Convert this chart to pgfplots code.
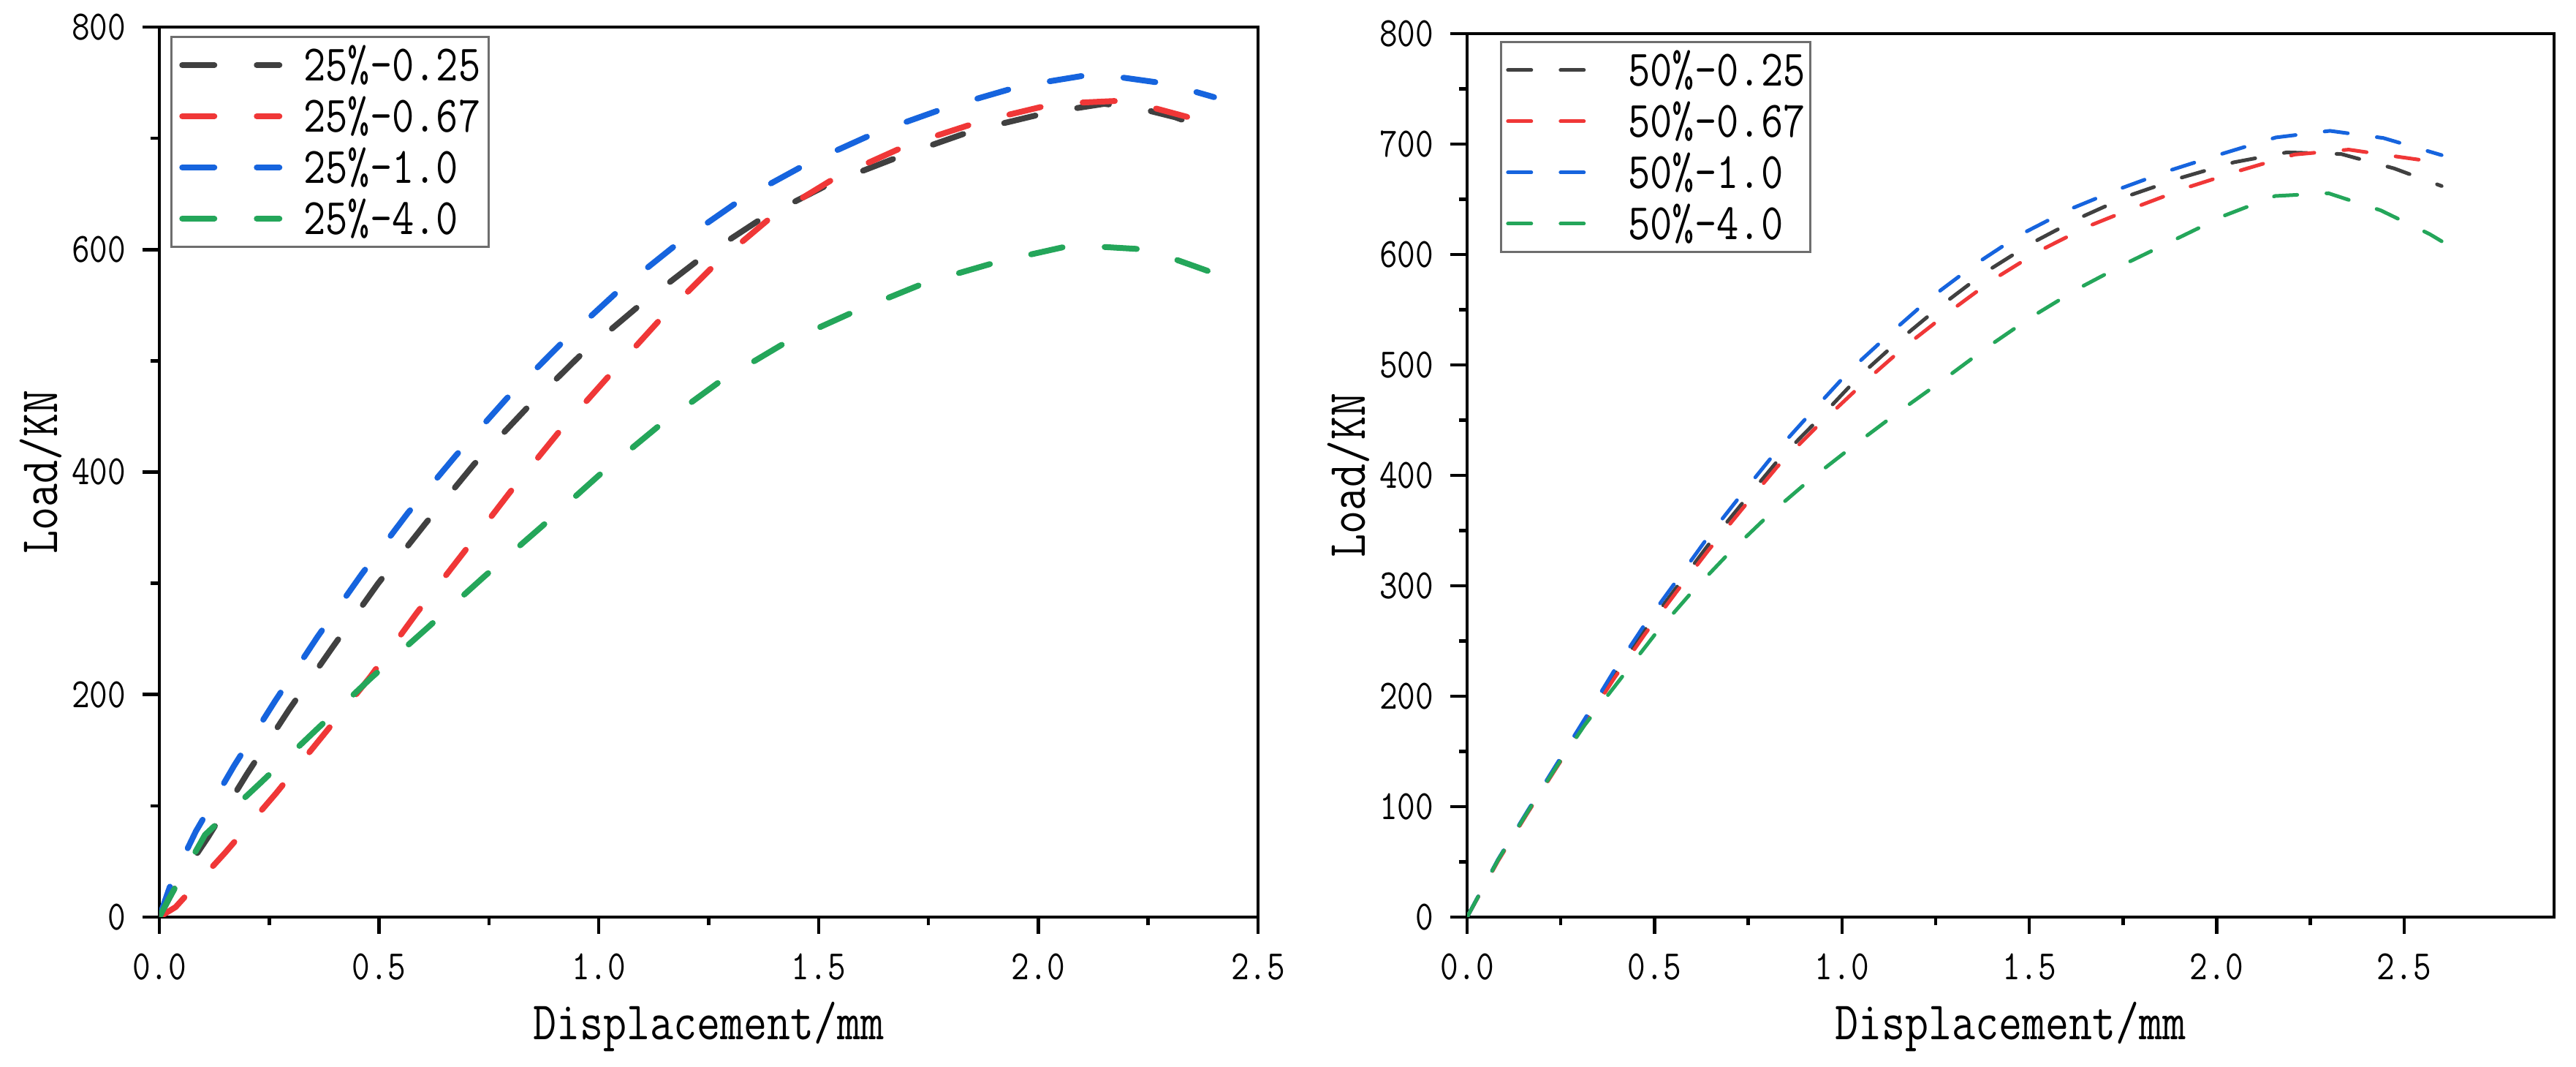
\documentclass[border=0pt]{standalone}
\usepackage{fontspec}
\setmainfont{Latin Modern Mono}[FakeStretch=0.84]
\usepackage{pgfplots}
\pgfplotsset{compat=1.18}
\definecolor{cgray}{RGB}{64,64,64}
\definecolor{cred}{RGB}{240,55,55}
\definecolor{cblue}{RGB}{22,100,222}
\definecolor{cgreen}{RGB}{36,166,90}
\pgfplotsset{
  common/.style={
    scale only axis, anchor=south west,
    axis line style={line width=0.9pt},
    every tick/.style={black, line width=0.9pt},
    tick align=outside, tick pos=left,
    major tick length=4.6pt, minor tick length=2.3pt,
    minor x tick num=1, minor y tick num=1,
    /pgf/number format/assume math mode=true,
    xticklabel style={font=\fontsize{11.4}{12}\selectfont, inner sep=0pt, /pgf/number format/fixed, /pgf/number format/fixed zerofill, /pgf/number format/precision=1},
    yticklabel style={font=\fontsize{11.4}{12}\selectfont, inner sep=0pt},
    label style={font=\fontsize{14.8}{16}\selectfont, inner sep=0pt},
    xlabel={Displacement/mm}, ylabel={Load/KN},
    legend cell align=left,
  },
  lft/.style={line width=1.6pt, line cap=round, dash pattern=on 8.8pt off 11.6pt},
  rgt/.style={line width=1pt, line cap=round, dash pattern=on 6.4pt off 8pt},
}
\begin{document}
\begin{tikzpicture}
\useasboundingbox (0,0) rectangle (704.8pt,291.8pt);
% ---------------- left ----------------
\begin{axis}[common,
  at={(43.6pt,41pt)}, width=300.6pt, height=243.4pt,
  xmin=0, xmax=2.5, ymin=0, ymax=800,
  xtick={0,0.5,...,2.5}, ytick={0,200,...,800},
  xticklabel style={yshift=-5.2pt},
  yticklabel style={xshift=-4.4pt},
  xlabel style={at={(axis description cs:0.5,-0.138)}, anchor=base},
  ylabel style={at={(axis description cs:-0.0931,0.5)}, anchor=base, rotate=0},
  legend image code/.code={\draw[#1] (0pt,0pt) -- (26.6pt,0pt);},
  legend style={at={(axis description cs:0.01,0.99)}, anchor=north west,
    draw={rgb,255:red,110;green,110;blue,110}, line width=0.5pt,
    inner xsep=2.2pt, inner ysep=0.7pt, row sep=0pt, column sep=5.8pt,
    font=\fontsize{14}{14}\selectfont,
    nodes={inner sep=0pt, text height=11.28pt, text depth=2.72pt}},
]
\addplot[lft, cgray] coordinates {(0,0)(0.04,30)(0.111,72)(0.20,129)(0.296,187)(0.395,243)(0.498,300)(0.606,354)(0.716,407)(0.835,457)(0.958,505)(1.09,549)(1.228,591)(1.371,628)(1.53,660)(1.70,686)(1.852,707)(2.02,723)(2.15,731)(2.23,727)(2.311,719)(2.41,705)};
\addlegendentry{25\%-0.25}
\addplot[lft, cred] coordinates {(0,0)(0.037,9)(0.15,58)(0.265,111)(0.374,164)(0.48,216)(0.585,273)(0.691,327)(0.798,382)(0.907,435)(1.022,486)(1.139,537)(1.263,586)(1.395,630)(1.54,665)(1.703,694)(1.867,715)(2.036,731)(2.20,734)(2.36,717)(2.41,710)};
\addlegendentry{25\%-0.67}
\addplot[lft, cblue] coordinates {(0,0)(0.028,32)(0.083,77)(0.17,136)(0.263,194)(0.36,252)(0.46,308)(0.565,363)(0.675,415)(0.79,466)(0.913,515)(1.042,562)(1.178,605)(1.32,644)(1.473,677)(1.63,705)(1.794,728)(1.96,747)(2.13,758)(2.294,749)(2.40,737)};
\addlegendentry{25\%-1.0}
\addplot[lft, cgreen] coordinates {(0,0)(0.021,16)(0.104,74)(0.2285,120)(0.3535,167)(0.482,215)(0.61,260)(0.739,306)(0.87,351)(1.0,397)(1.135,441)(1.274,481)(1.423,516)(1.58,544)(1.742,570)(1.908,589)(2.078,604)(2.249,600)(2.42,576)};
\addlegendentry{25\%-4.0}
\end{axis}
% ---------------- right ----------------
\begin{axis}[common,
  at={(401.4pt,41pt)}, width=297.4pt, height=241.6pt,
  xmin=0, xmax=2.9, ymin=0, ymax=800,
  xtick={0,0.5,...,2.5}, ytick={0,100,...,800},
  xticklabel style={yshift=-5.2pt},
  yticklabel style={xshift=-4.4pt},
  xlabel style={at={(axis description cs:0.5,-0.139)}, anchor=base},
  ylabel style={at={(axis description cs:-0.0941,0.5)}, anchor=base, rotate=0},
  legend image code/.code={\draw[#1] (0pt,0pt) -- (22.2pt,0pt);},
  legend style={at={(axis description cs:0.0303,0.9917)}, anchor=north west,
    draw={rgb,255:red,110;green,110;blue,110}, line width=0.5pt,
    inner xsep=1.4pt, inner ysep=0.7pt, row sep=0pt, column sep=10.2pt,
    font=\fontsize{14}{14}\selectfont,
    nodes={inner sep=0pt, text height=11.28pt, text depth=2.72pt}},
]
\addplot[rgt, cgray] coordinates {(0,0)(0.083,52)(0.161,95)(0.238,137)(0.314,177)(0.392,219)(0.474,260)(0.5575,298)(0.6435,337)(0.735,375)(0.828,413)(0.944,453)(1.044,489)(1.1515,522)(1.2635,553.5)(1.3805,583.5)(1.5045,610)(1.633,633)(1.767,653.5)(1.9045,669.5)(2.0455,683.5)(2.187,692.5)(2.332,691)(2.473,678)(2.60,662)};
\addlegendentry{50\%-0.25}
\addplot[rgt, cred] coordinates {(0,0)(0.083,51)(0.161,94)(0.238,135)(0.314,175)(0.392,216)(0.474,256)(0.5575,294)(0.6435,332)(0.735,370)(0.828,408)(0.93,443)(1.0585,484)(1.171,517.5)(1.284,547.5)(1.402,577)(1.528,603.5)(1.6565,625.5)(1.792,644)(1.9285,661.5)(2.0665,676.5)(2.207,690.5)(2.352,695)(2.495,688)(2.60,683)};
\addlegendentry{50\%-0.67}
\addplot[rgt, cblue] coordinates {(0,0)(0.083,52.5)(0.161,96)(0.238,138)(0.314,179.5)(0.392,223)(0.474,265)(0.5575,304)(0.6435,344.5)(0.735,384)(0.828,423)(0.925,459.5)(1.0225,495.5)(1.127,528)(1.2375,561)(1.355,591)(1.476,618)(1.608,641)(1.741,659.5)(1.878,676.5)(2.017,691.5)(2.1575,706)(2.302,712)(2.4445,705.5)(2.60,690)};
\addlegendentry{50\%-1.0}
\addplot[rgt, cgreen] coordinates {(0,0)(0.083,52)(0.161,95)(0.238,136)(0.314,174)(0.41,216)(0.5025,256.5)(0.5975,293.5)(0.6985,329.5)(0.803,363.5)(0.9145,396)(1.0315,427)(1.1475,456.5)(1.2665,485.5)(1.3835,515)(1.5035,543)(1.6295,569)(1.758,592)(1.8885,613.5)(2.0185,635)(2.156,653)(2.298,655.5)(2.4375,640)(2.568,618.5)(2.60,612)};
\addlegendentry{50\%-4.0}
\end{axis}
\end{tikzpicture}
\end{document}
